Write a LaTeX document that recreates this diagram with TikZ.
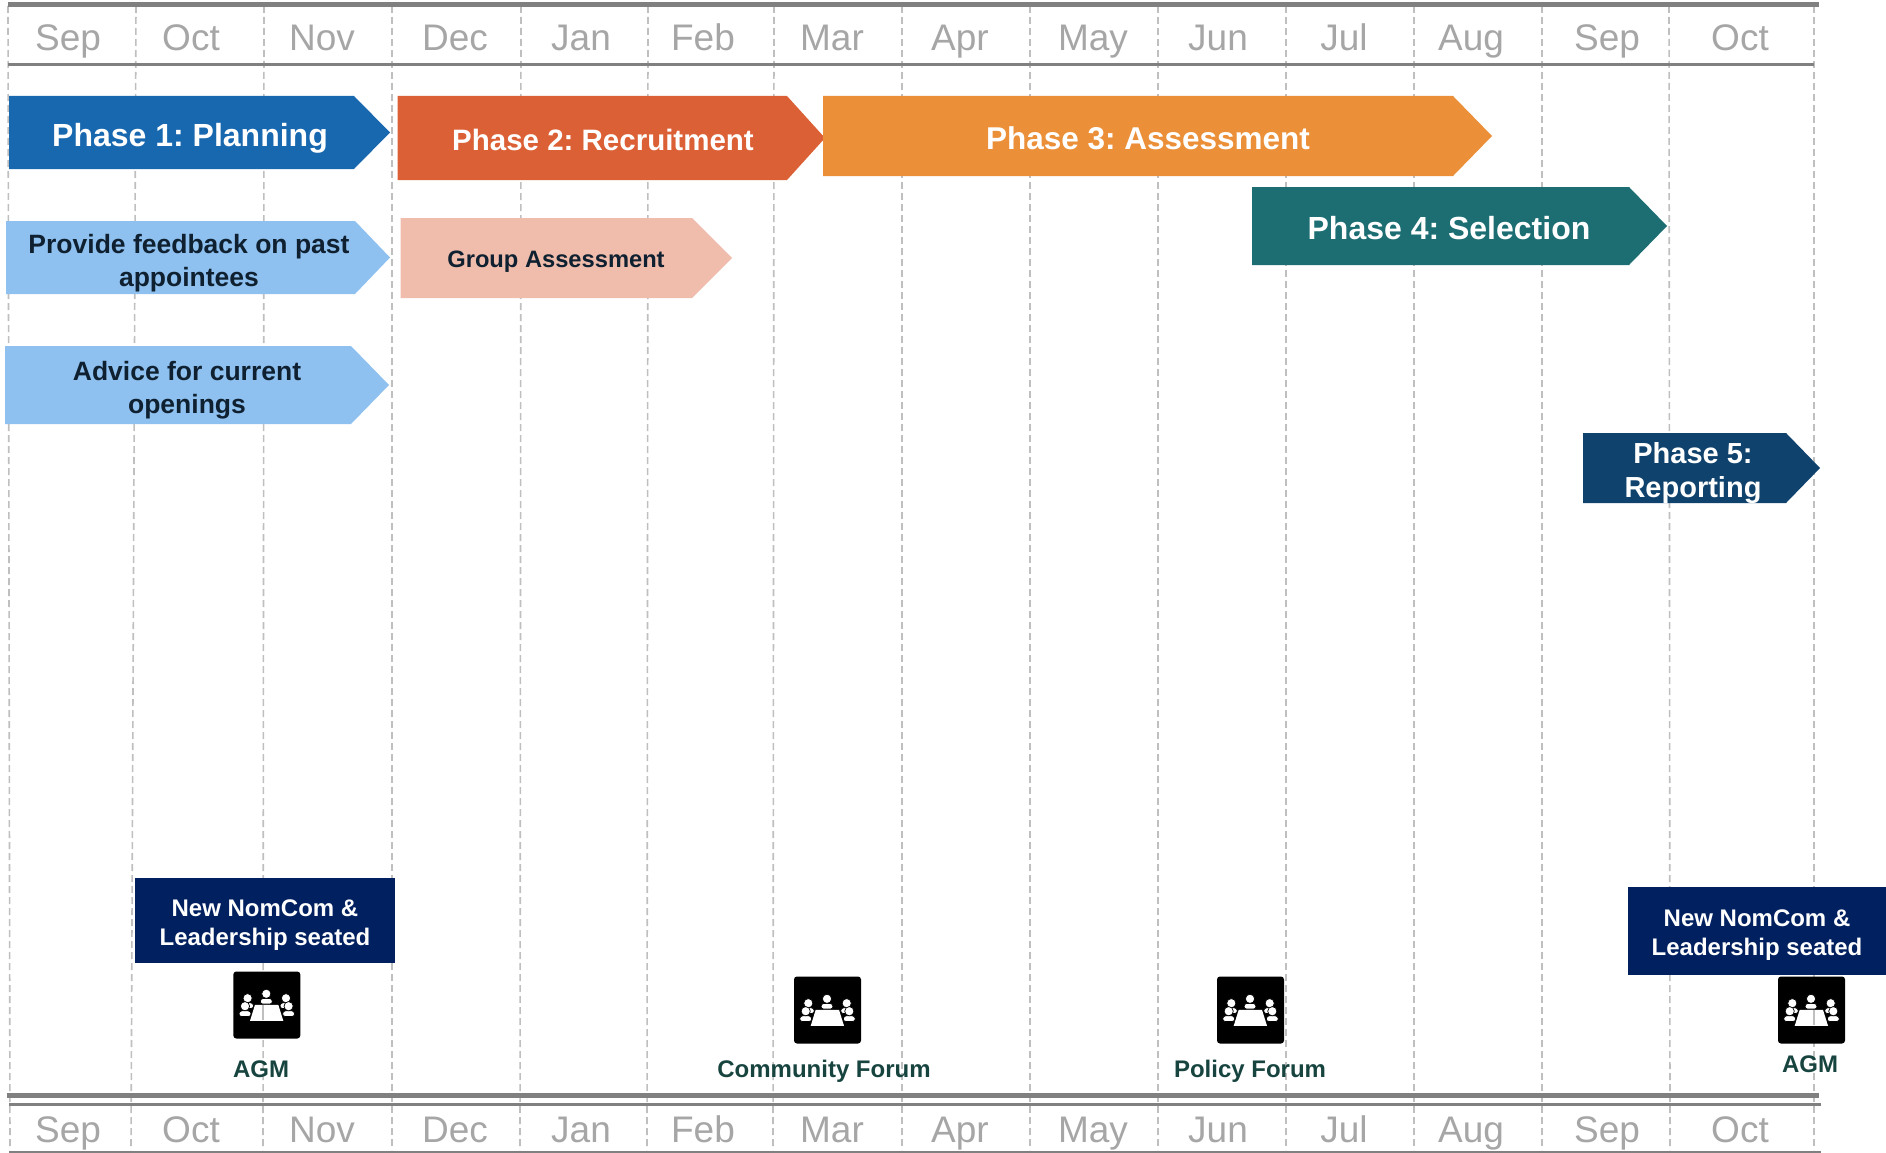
\documentclass[tikz,border=0pt]{standalone}
\usepackage{fontspec}
\setmainfont{Liberation Sans}
\frenchspacing
\definecolor{rulec}{HTML}{808080}
\definecolor{gridc}{HTML}{BFBFBF}
\definecolor{monthc}{HTML}{A6A6A6}
\definecolor{pone}{HTML}{1868B0}
\definecolor{ptwo}{HTML}{DC6035}
\definecolor{pthree}{HTML}{EB9039}
\definecolor{pfour}{HTML}{1C6E73}
\definecolor{pfive}{HTML}{0F426C}
\definecolor{lblue}{HTML}{8FC1F0}
\definecolor{lpink}{HTML}{F0BDAD}
\definecolor{navyc}{HTML}{00205F}
\definecolor{darktext}{HTML}{0F2030}
\definecolor{evtext}{HTML}{17443F}
\newcommand{\fsz}[2]{\fontsize{#1}{#2}\selectfont\frenchspacing}
\newcommand{\arrowshape}[7]{% colour, x0, x1, tip, ytop, ybot, ymid
  \fill[#1] (#2,#5) -- (#3,#5) -- (#4,#7) -- (#3,#6) -- (#2,#6) -- cycle;}
\newcommand{\meetperson}[2]{%
  \filldraw[white,draw=black,line width=0.7pt,rounded corners=2.6] (#1-6.2,#2+10.2) -- (#1-5.6,#2+4.6) -- (#1+5.6,#2+4.6) -- (#1+6.2,#2+10.2) -- cycle;
  \filldraw[white,draw=black,line width=0.7pt] (#1,#2) circle (4.6);}
\newcommand{\meetingicon}[2]{%
  \begin{scope}[shift={(#1,#2)}]
    \fill[black,rounded corners=3] (0,0) rectangle (67,67);
    \meetperson{33}{22.3}
    \meetperson{14.3}{26.7}
    \meetperson{52.7}{26.7}
    \meetperson{11.7}{34.7}
    \meetperson{55.3}{34.7}
    \fill[white] (21.7,33.3) -- (45,33.3) -- (50,49.3) -- (16.7,49.3) -- cycle;
  \end{scope}}
\tikzset{
  x=1pt,y=-1pt,
  gridline/.style={gridc,line width=1.6pt,dash pattern=on 7pt off 4pt},
  thickrule/.style={rulec,line width=5pt},
  midrule/.style={rulec,line width=3.6pt},
  monthlabel/.style={monthc,font=\fsz{37}{37},anchor=base,inner sep=0pt},
  phaselabel/.style 2 args={white,font=\bfseries\fsz{#1}{#2},align=center,inner sep=0pt},
  steplabel/.style 2 args={darktext,font=\bfseries\fsz{#1}{#2},align=center,inner sep=0pt},
  seatlabel/.style={white,font=\bfseries\fsz{#1}{29},align=center,inner sep=0pt},
  evlabel/.style={evtext,font=\bfseries\fsz{#1}{#1},inner sep=0pt},
}
\begin{document}
\begin{tikzpicture}
\useasboundingbox (0,0) rectangle (1886,1153);
% grid
\foreach \a/\b in {8/10,136/131,264/263,392/392,521/520,648/647,774/773,902/902,1030/1030,1158/1158,1286/1286,1414/1414,1542/1542,1669/1670,1814/1814}{
  \draw[gridline] (\a,6) -- (\b,1150);
}
% rules
\draw[thickrule] (8,5) -- (1819,5);
\draw[midrule] (8,64.5) -- (1814,64.5);
\draw[thickrule] (7,1095.5) -- (1819,1095.5);
\draw[midrule] (9,1104.5) -- (1821,1104.5);
\draw[rulec,line width=2.5pt] (9,1152) -- (1821,1152);
% months
\foreach \n/\t/\cx in {a/Sep/68,b/Oct/191,c/Nov/322,d/Dec/455,e/Jan/581,f/Feb/703,g/Mar/832,h/Apr/960,i/May/1093,j/Jun/1218,k/Jul/1344,l/Aug/1471,m/Sep/1607,n/Oct/1740}{
  \node[monthlabel] (top\n) at (\cx,51) {\t};
  \node[monthlabel] (bot\n) at (\cx,1142) {\t};
}
% arrows
\arrowshape{pone}{9}{354}{390}{96}{169}{132.5}
\node[phaselabel={32}{32}] (p1) at (190,138.5) {Phase 1: Planning};
\arrowshape{ptwo}{397.5}{787}{825}{96}{180}{138}
\node[phaselabel={29.5}{29.5}] (p2) at (603,140) {Phase 2: Recruitment};
\arrowshape{pthree}{823}{1453}{1492}{96}{176}{136}
\node[phaselabel={31.5}{31.5}] (p3) at (1148,138) {Phase 3: Assessment};
\arrowshape{pfour}{1252}{1629}{1667}{187}{265}{226}
\node[phaselabel={32}{32}] (p4) at (1449,228.5) {Phase 4: Selection};
\arrowshape{pfive}{1583}{1786}{1820}{433}{503}{468}
\node[phaselabel={29}{34}] (p5) at (1693,473) {Phase 5:\\Reporting};
\arrowshape{lblue}{6}{355}{390}{221}{294}{257.5}
\node[steplabel={26.5}{33}] (s1) at (189,263) {Provide feedback on past\\appointees};
\arrowshape{lpink}{400.5}{692}{732}{218}{298}{258}
\node[steplabel={23.7}{23.7}] (s2) at (556,261.5) {Group Assessment};
\arrowshape{lblue}{5}{351}{389}{346}{424}{385}
\node[steplabel={26.5}{33}] (s3) at (187,390) {Advice for current\\openings};
% seated boxes
\fill[navyc] (135,878) rectangle (395,963);
\node[seatlabel=24] (n1) at (265,925.5) {New NomCom \&\\Leadership seated};
\fill[navyc] (1628,887) rectangle (1886,975);
\node[seatlabel=24] (n2) at (1757,935.5) {New NomCom \&\\Leadership seated};
% icons
\meetingicon{233.3}{971.5}
\meetingicon{794}{976.5}
\meetingicon{1217}{976.5}
\meetingicon{1778}{976.5}
\draw[gridc,line width=1.2pt] (263,1005) -- (263,1020);
\draw[gridc,line width=1.2pt] (1814,1010) -- (1814,1025);
% event labels
\node[evlabel=24] (e1) at (261,1069.5) {AGM};
\node[evlabel=24] (e2) at (824,1071) {Community Forum};
\node[evlabel=24] (e3) at (1250,1071.5) {Policy Forum};
\node[evlabel=24] (e4) at (1810,1064.5) {AGM};
\end{tikzpicture}
\end{document}
